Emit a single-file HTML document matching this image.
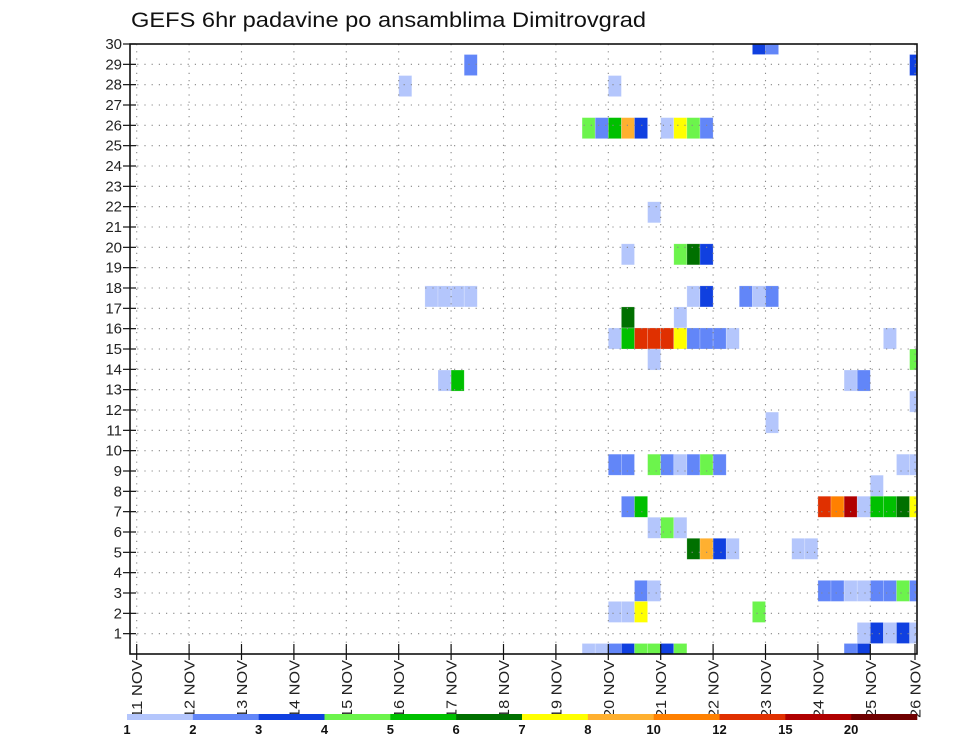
<!DOCTYPE html>
<html><head><meta charset="utf-8"><style>
html,body{margin:0;padding:0;background:#fff;}
svg{display:block;font-family:"Liberation Sans","DejaVu Sans",sans-serif;}
</style></head><body>
<svg id="chart" width="960" height="742" viewBox="0 0 960 742" xmlns="http://www.w3.org/2000/svg">
<text x="131" y="27" font-size="21" fill="#111" textLength="515" lengthAdjust="spacingAndGlyphs">GEFS 6hr padavine po ansamblima Dimitrovgrad</text>
<defs><clipPath id="plotclip"><rect x="130" y="44" width="787" height="610"/></clipPath></defs>
<g id="cells" clip-path="url(#plotclip)"></g>
<g id="grid"></g>
<rect x="130" y="44" width="787" height="610" fill="none" stroke="#111" stroke-width="1.6"/>
<g id="yaxis"></g>
<g id="xaxis"></g>
<g id="legend"></g>
</svg>
<script>
// ---- data ----
const levels = [1,2,3,4,5,6,7,8,10,12,15,20];
const levelColors = ["#b4c6fc","#6286f8","#1040e0","#6cf44c","#00c000","#007000","#ffff00","#ffb030","#ff8000","#e03000","#b00000","#700000"];
const dayLabels = ["11 NOV","12 NOV","13 NOV","14 NOV","15 NOV","16 NOV","17 NOV","18 NOV","19 NOV","20 NOV","21 NOV","22 NOV","23 NOV","24 NOV","25 NOV","26 NOV"];
const memberTicks = [1,2,3,4,5,6,7,8,9,10,11,12,13,14,15,16,17,18,19,20,21,22,23,24,25,26,27,28,29,30];
// cell row (0 = top of chart), 6-hour step index, precipitation value (mm)
const cellRow = [0,0, 1,1, 2,2,
 4,4,4,4,4,4,4,4,4, 8, 10,10,10,10,
 12,12,12,12,12,12,12,12,12, 13,13,
 14,14,14,14,14,14,14,14,14,14,14, 15,15, 16,16,16,16, 17, 18,
 20,20,20,20,20,20,20,20,20,20, 21,
 22,22,22,22,22,22,22,22,22,22, 23,23,23,
 24,24,24,24,24,24,
 26,26,26,26,26,26,26,26,26,26, 27,27,27,27, 28,28,28,28,28,
 29,29,29,29,29,29,29,29,29,29];
const cellStep = [47,48, 25,59, 20,36,
 34,35,36,37,38,40,41,42,43, 39, 37,41,42,43,
 22,23,24,25,42,43,46,47,48, 37,41,
 36,37,38,39,40,41,42,43,44,45,57, 39,59, 23,24,54,55, 59, 48,
 36,37,39,40,41,42,43,44,58,59, 56,
 37,38,52,53,54,55,56,57,58,59, 39,40,41,
 42,43,44,45,50,51,
 38,39,52,53,54,55,56,57,58,59, 36,37,38,47, 55,56,57,58,59,
 34,35,36,37,38,39,40,41,54,55];
const cellValue = [3.5,2.5, 2.5,3.5, 1.5,1.5,
 4.5,2.5,5.5,9,3.5,1.5,7.5,4.5,2.5, 1.5, 1.5,4.5,6.5,3.5,
 1.5,1.5,1.5,1.5,1.5,3.5,2.5,1.5,2.5, 6.5,1.5,
 1.5,5.5,13,13,13,7.5,2.5,2.5,2.5,1.5,1.5, 1.5,4.5, 1.5,5.5,1.5,2.5, 1.5, 1.5,
 2.5,2.5,4.5,2.5,1.5,2.5,4.5,2.5,1.5,1.5, 1.5,
 2.5,5.5,13,11,17,1.5,5.5,5.5,6.5,7.5, 1.5,4.5,1.5,
 6.5,9,3.5,1.5,1.5,1.5,
 2.5,1.5,2.5,2.5,1.5,1.5,2.5,2.5,4.5,2.5, 1.5,1.5,7.5,4.5, 1.5,3.5,1.5,3.5,1.5,
 1.5,1.5,2.5,3.5,4.5,4.5,3.5,4.5,2.5,3.5];

// ---- scales ----
const NS="http://www.w3.org/2000/svg";
const X0=136.7, STEP=13.1, PL=130, PR=917, PT=44, PB=654;
const ROWH=(PB-PT)/29;
function xStep(k){return X0+k*STEP;}
function xDay(d){return X0+d*4*STEP;}
function yRow(r){return PT+r*ROWH;}
function yMember(m){return PB-(m)*(PB-PT)/30;}
function colorFor(v){let i=0;for(let j=0;j<levels.length;j++){if(v>=levels[j])i=j;}return levelColors[i];}
function mk(tag,attrs,parent){const e=document.createElementNS(NS,tag);for(const a in attrs)e.setAttribute(a,attrs[a]);parent.appendChild(e);return e;}

// cells
const cg=document.getElementById('cells');
for(let i=0;i<cellRow.length;i++){
  const r=mk('rect',{x:xStep(cellStep[i]),y:yRow(cellRow[i])-ROWH/2,width:STEP,height:ROWH,fill:colorFor(cellValue[i]),stroke:"#ffffff","stroke-opacity":"0.35","stroke-width":"0.6"},cg);
  
  
}
// grid
const gg=document.getElementById('grid');
for(const m of memberTicks){
  const y=yMember(m);
  const l=mk('line',{x1:PL,x2:PR,y1:y,y2:y,stroke:"#888","stroke-width":"1.1","stroke-dasharray":"1.2,6"},gg);
  
  
}
for(let d=0;d<dayLabels.length;d++){
  const x=Math.min(xDay(d),915);
  const l=mk('line',{x1:x,x2:x,y1:PT,y2:PB,stroke:"#888","stroke-width":"1.1","stroke-dasharray":"1.2,6"},gg);
  
  
}
// y axis
const yg=document.getElementById('yaxis');
for(const m of memberTicks){
  const y=yMember(m);
  mk('line',{x1:123,x2:136,y1:y,y2:y,stroke:"#111","stroke-width":"1.2"},yg);
  const t=mk('text',{x:122,y:y+5,"font-size":"15","text-anchor":"end",fill:"#222"},yg);
  t.textContent=m;
  
  
}
// x axis
const xg=document.getElementById('xaxis');
for(let d=0;d<dayLabels.length;d++){
  const x=Math.min(xDay(d),915);
  mk('line',{x1:x,x2:x,y1:PB-10,y2:PB+6,stroke:"#111","stroke-width":"1.2"},xg);
  const t=mk('text',{x:x+5.5,y:718,"font-size":"15",fill:"#222",transform:"rotate(-90 "+(x+5.5)+" 718)",textLength:"58",lengthAdjust:"spacingAndGlyphs"},xg);
  t.textContent=dayLabels[d];
  
  
}
// legend
const lg=document.getElementById('legend');
const LX0=127, LX1=917, LW=(LX1-LX0)/levels.length;
for(let i=0;i<levels.length;i++){
  const r=mk('rect',{x:LX0+i*LW,y:714,width:LW+0.3,height:6,fill:levelColors[i]},lg);
  
  
  const t=mk('text',{x:LX0+i*LW,y:734,"font-size":"13","font-weight":"bold","text-anchor":"middle",fill:"#111"},lg);
  t.textContent=levels[i];
  
  
}
</script>
</body></html>
